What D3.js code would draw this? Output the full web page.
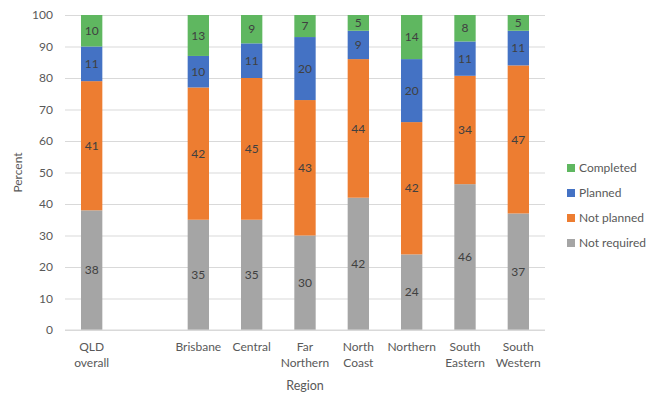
<!DOCTYPE html>
<html>
<head>
<meta charset="utf-8">
<script src="https://cdn.jsdelivr.net/npm/d3@7"></script>
<style>
  body { margin: 0; background: #fff; }
  text { font-family: Lato, 'Open Sans', sans-serif; }
</style>
</head>
<body>
<svg width="659" height="396"></svg>
<script>
// categories, '' is the empty gap slot after QLD overall
const regions = ['QLD overall', '', 'Brisbane', 'Central', 'Far Northern', 'North Coast', 'Northern', 'South Eastern', 'South Western']
const regionLines = {
  'QLD overall': ['QLD', 'overall'],
  'Brisbane': ['Brisbane'],
  'Central': ['Central'],
  'Far Northern': ['Far', 'Northern'],
  'North Coast': ['North', 'Coast'],
  'Northern': ['Northern'],
  'South Eastern': ['South', 'Eastern'],
  'South Western': ['South', 'Western']
}
const seriesNames = ['Not required', 'Not planned', 'Planned', 'Completed']
const notRequired = [38, null, 35, 35, 30, 42, 24, 46.3, 37]
const notPlanned = [41, null, 42, 45, 43, 44, 42, 34.4, 47]
const planned = [11, null, 10, 11, 20, 9, 20, 10.9, 11]
const completed = [10, null, 13, 9, 7, 5, 14, 8.4, 5]
const yTicks = [0, 10, 20, 30, 40, 50, 60, 70, 80, 90, 100]
const colors = ['#a5a5a5', '#ed7d31', '#4472c4', '#5fb760']

const svg = d3.select('svg')
const margin = { top: 15, right: 114, bottom: 66, left: 65 }
const width = +svg.attr('width')
const height = +svg.attr('height')
const innerWidth = width - margin.left - margin.right
const innerHeight = height - margin.top - margin.bottom

const rows = regions.map((r, i) => ({
  region: r,
  'Not required': notRequired[i] || 0,
  'Not planned': notPlanned[i] || 0,
  'Planned': planned[i] || 0,
  'Completed': completed[i] || 0
}))

const stacked = d3.stack().keys(seriesNames)(rows)

const xScale = d3.scaleBand()
  .domain(regions.map((r, i) => i))
  .range([0, innerWidth])
  .paddingInner(0.6)
  .paddingOuter(0.3)

const yScale = d3.scaleLinear()
  .domain([0, 100])
  .range([innerHeight, 0])

const g = svg.append('g')
  .attr('transform', `translate(${margin.left}, ${margin.top})`)

// gridlines + y axis
const yAxis = d3.axisLeft(yScale)
  .tickValues(yTicks)
  .tickSize(-innerWidth)
  .tickPadding(12)

const yAxisGroup = g.append('g').call(yAxis)
yAxisGroup.select('.domain').remove()
yAxisGroup.selectAll('line').attr('stroke', '#d9d9d9')
yAxisGroup.selectAll('text')
  .attr('fill', '#595959')
  .style('font-size', '12px')

yAxisGroup.append('text')
  .attr('transform', 'rotate(-90)')
  .attr('x', -innerHeight / 2)
  .attr('y', -43)
  .attr('text-anchor', 'middle')
  .attr('fill', '#595959')
  .style('font-size', '12px')
  .text('Percent')

// bars
const layers = g.selectAll('.layer')
  .data(stacked)
  .enter().append('g')
  .attr('fill', (d, i) => colors[i])

layers.selectAll('rect')
  .data(d => d.filter(p => p[1] > p[0]))
  .enter().append('rect')
  .attr('x', d => xScale(regions.indexOf(d.data.region)))
  .attr('width', xScale.bandwidth())
  .attr('y', d => yScale(d[1]))
  .attr('height', d => yScale(d[0]) - yScale(d[1]))

layers.selectAll('text')
  .data(d => d.filter(p => p[1] > p[0]))
  .enter().append('text')
  .attr('x', d => xScale(regions.indexOf(d.data.region)) + xScale.bandwidth() / 2)
  .attr('y', d => yScale((d[0] + d[1]) / 2))
  .attr('dy', '0.35em')
  .attr('text-anchor', 'middle')
  .attr('fill', '#404040')
  .style('font-size', '12px')
  .text(d => Math.round(d[1] - d[0]))

// x axis
const xAxisGroup = g.append('g')
  .attr('transform', `translate(0, ${innerHeight})`)

xAxisGroup.append('line')
  .attr('x1', 0)
  .attr('x2', innerWidth)
  .attr('stroke', '#d9d9d9')

regions.forEach((r, i) => {
  if (!r) return
  const t = xAxisGroup.append('text')
    .attr('x', xScale(i) + xScale.bandwidth() / 2)
    .attr('y', 21)
    .attr('text-anchor', 'middle')
    .attr('fill', '#595959')
    .style('font-size', '12px')
  regionLines[r].forEach((line, k) => {
    t.append('tspan')
      .attr('x', xScale(i) + xScale.bandwidth() / 2)
      .attr('dy', k === 0 ? 0 : 16)
      .text(line)
  })
})

xAxisGroup.append('text')
  .attr('x', innerWidth / 2)
  .attr('y', 60)
  .attr('text-anchor', 'middle')
  .attr('fill', '#595959')
  .style('font-size', '12.5px')
  .text('Region')

// legend, top entry is Completed
const legend = svg.append('g')
  .attr('transform', 'translate(567, 168)')

seriesNames.slice().reverse().forEach((name, i) => {
  const row = legend.append('g').attr('transform', `translate(0, ${i * 25})`)
  row.append('rect')
    .attr('x', 0)
    .attr('y', -4)
    .attr('width', 8)
    .attr('height', 8)
    .attr('fill', colors[seriesNames.indexOf(name)])
  row.append('text')
    .attr('x', 12)
    .attr('dy', '0.35em')
    .attr('fill', '#595959')
    .style('font-size', '12px')
    .text(name)
})
</script>
</body>
</html>
